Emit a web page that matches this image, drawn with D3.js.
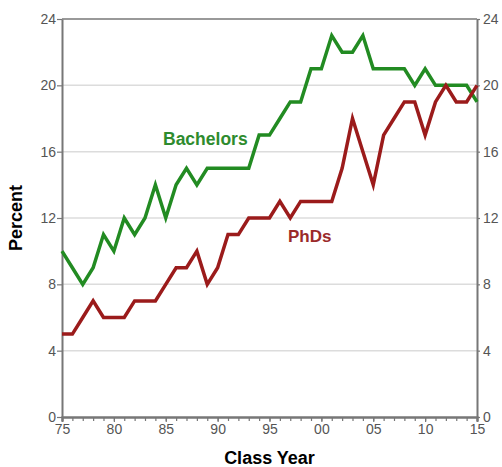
<!DOCTYPE html>
<html lang="en">
<head>
  <meta charset="UTF-8">
  <title>Bachelors and PhDs by Class Year</title>
  <script src="https://d3js.org/d3.v7.min.js"></script>
  <style>
    body { margin: 0; background: white; }
    svg { display: block; font-family: "Liberation Sans", Arial, sans-serif; }
  </style>
</head>
<body>
  <div id="chart"></div>
  <script>
    const years = d3.range(1975, 2016)
    const bachelors = [10, 9, 8, 9, 11, 10, 12, 11, 12, 14, 12, 14, 15, 14, 15, 15, 15, 15, 15, 17,
      17, 18, 19, 19, 21, 21, 23, 22, 22, 23, 21, 21, 21, 21, 20, 21, 20, 20, 20, 20, 19]
    const phds = [5, 5, 6, 7, 6, 6, 6, 7, 7, 7, 8, 9, 9, 10, 8, 9, 11, 11, 12, 12,
      12, 13, 12, 13, 13, 13, 13, 15, 18, 16, 14, 17, 18, 19, 19, 17, 19, 20, 19, 19, 20]
    const yTicks = [0, 4, 8, 12, 16, 20, 24]
    const xMajor = [1975, 1980, 1985, 1990, 1995, 2000, 2005, 2010, 2015]

    const width = 502
    const height = 467
    const margin = { top: 19, right: 25, bottom: 50, left: 62 }

    const svg = d3.select('#chart').append('svg')
      .attr('width', width)
      .attr('height', height)

    const x = d3.scaleLinear().domain([1975, 2015]).range([margin.left, width - margin.right])
    const y = d3.scaleLinear().domain([0, 24]).range([height - margin.bottom, margin.top])

    // gridlines
    svg.append('g')
      .selectAll('line')
      .data(yTicks.filter(d => d > 0 && d < 24))
      .join('line')
      .attr('x1', x(1975)).attr('x2', x(2015))
      .attr('y1', d => y(d)).attr('y2', d => y(d))
      .attr('stroke', '#dcdcdc')
      .attr('stroke-width', 1.5)

    // top border
    svg.append('line')
      .attr('x1', x(1975)).attr('x2', x(2015))
      .attr('y1', y(24)).attr('y2', y(24))
      .attr('stroke', '#777').attr('stroke-width', 1.5)

    const styleAxis = g => {
      g.select('.domain').attr('stroke', '#777').attr('stroke-width', 2)
      g.selectAll('.tick line').attr('stroke', '#777').attr('stroke-width', 1.2)
      g.selectAll('.tick text').attr('fill', '#555').style('font-size', '14px')
        .style('font-family', '"Liberation Sans", Arial, sans-serif')
    }

    svg.append('g')
      .attr('transform', `translate(${x(1975)},0)`)
      .call(d3.axisLeft(y).tickValues(yTicks).tickSize(5).tickSizeOuter(0).tickPadding(1))
      .call(styleAxis)

    svg.append('g')
      .attr('transform', `translate(${x(2015)},0)`)
      .call(d3.axisRight(y).tickValues(yTicks).tickSize(3).tickSizeOuter(0).tickPadding(3))
      .call(styleAxis)

    // minor ticks
    svg.append('g')
      .attr('transform', `translate(0,${y(0)})`)
      .call(d3.axisBottom(x).tickValues(years).tickSize(4).tickFormat(''))
      .call(styleAxis)

    svg.append('g')
      .attr('transform', `translate(0,${y(0)})`)
      .call(d3.axisBottom(x).tickValues(xMajor).tickSize(5).tickPadding(2)
        .tickFormat(d => String(d % 100).padStart(2, '0')))
      .call(styleAxis)

    const line = d3.line().x((d, i) => x(years[i])).y(d => y(d))

    svg.append('path')
      .datum(bachelors)
      .attr('d', line)
      .attr('fill', 'none')
      .attr('stroke', '#228b22')
      .attr('stroke-width', 3.5)
      .attr('stroke-linejoin', 'miter')

    svg.append('path')
      .datum(phds)
      .attr('d', line)
      .attr('fill', 'none')
      .attr('stroke', '#9b1b1b')
      .attr('stroke-width', 3.5)
      .attr('stroke-linejoin', 'miter')

    svg.append('text')
      .attr('x', 163).attr('y', 145)
      .attr('fill', '#2e8b2e')
      .style('font-size', '17.5px').style('font-weight', 'bold')
      .text('Bachelors')

    svg.append('text')
      .attr('x', 288).attr('y', 242)
      .attr('fill', '#9b2a2a')
      .style('font-size', '17px').style('font-weight', 'bold')
      .text('PhDs')

    svg.append('text')
      .attr('transform', `translate(22,${(y(0) + y(24)) / 2}) rotate(-90)`)
      .attr('text-anchor', 'middle')
      .style('font-size', '18px').style('font-weight', 'bold')
      .text('Percent')

    svg.append('text')
      .attr('x', (x(1975) + x(2015)) / 2)
      .attr('y', 464)
      .attr('text-anchor', 'middle')
      .style('font-size', '18px').style('font-weight', 'bold')
      .text('Class Year')
  </script>
</body>
</html>
